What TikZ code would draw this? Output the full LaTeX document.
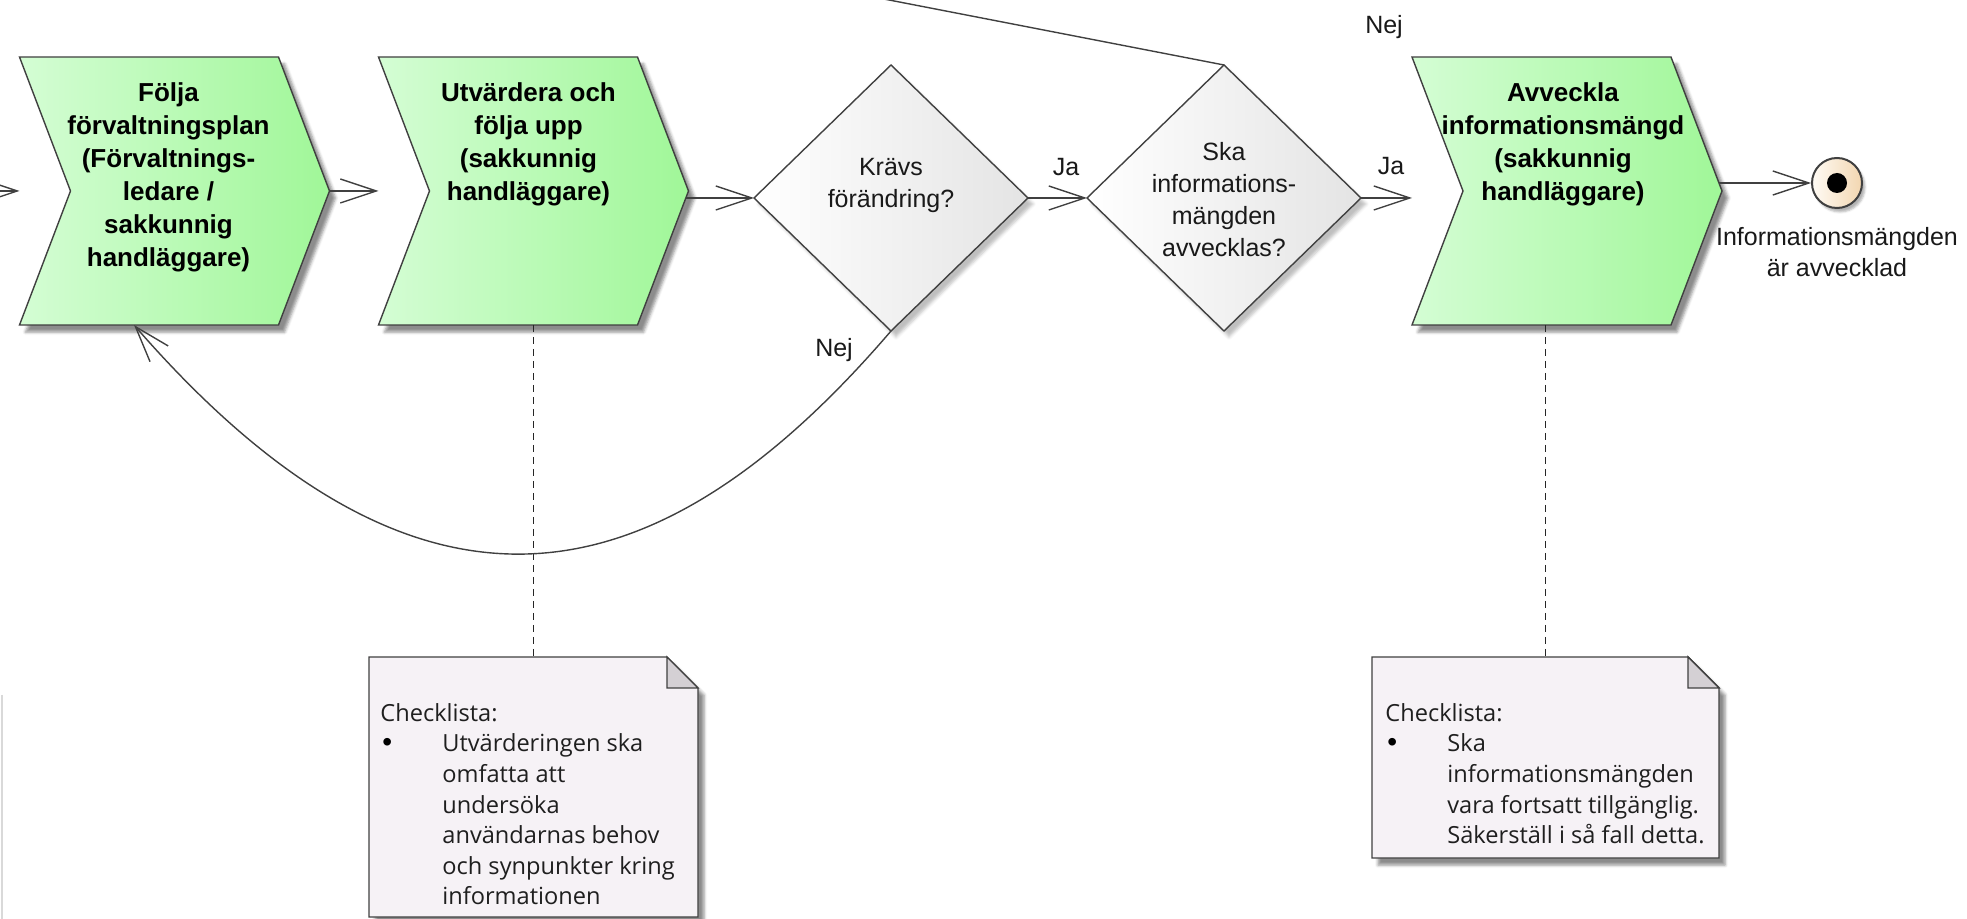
\documentclass[tikz,border=0pt]{standalone}
\usepackage{fontspec}
\setmainfont{Liberation Sans}
\newfontfamily\notefont{Open Sans}
\newfontfamily\bulfont{Liberation Sans}
\usetikzlibrary{arrows.meta,shadows.blur,calc,shapes.geometric}
\definecolor{edge}{HTML}{404040}
\definecolor{gL}{HTML}{D4FDD4}
\definecolor{gR}{HTML}{A0F798}
\definecolor{dR}{HTML}{E4E4E4}
\definecolor{noteF}{HTML}{F6F2F6}
\definecolor{foldF}{HTML}{D4D0D4}
\definecolor{endL}{HTML}{FFFBF5}
\definecolor{endR}{HTML}{F2D6B0}
\newcommand\nbul{\makebox[31pt][l]{\hspace{1pt}{\bulfont\color{black}\fontsize{14}{15.3}\selectfont\textbullet}}}
\begin{document}
\begin{tikzpicture}[x=0.5pt,y=-0.5pt,
  shad/.style={blur shadow={shadow xshift=3pt,shadow yshift=-3.5pt,shadow blur radius=1.5pt,shadow opacity=45}},
  box/.style={rectangle,inner sep=0pt,outer sep=0pt,minimum width=155pt,minimum height=134pt},
  chev/.style={draw=edge,line width=0.7pt,left color=gL,right color=gR,shad},
  dbox/.style={diamond,inner sep=0pt,outer sep=0pt,minimum width=137pt,minimum height=133pt,draw=edge,line width=0.7pt,left color=white,right color=dR,blur shadow={shadow xshift=2.5pt,shadow yshift=-3pt,shadow blur radius=1.5pt,shadow opacity=25}},
  nbox/.style={rectangle,inner sep=0pt,outer sep=0pt},
  notep/.style={draw=edge,line width=0.7pt,fill=noteF,shad},
  foldp/.style={draw=edge,line width=0.7pt,fill=foldF},
  ctext/.style={font=\bfseries\fontsize{13}{16.5}\selectfont,align=center,anchor=north,inner sep=0pt},
  dtext/.style={font=\fontsize{12.5}{16}\selectfont,align=center,inner sep=0pt,text=black!90},
  lbl/.style={font=\fontsize{12.5}{15.5}\selectfont,inner sep=0pt,text=black!90},
  ntext/.style={font=\notefont\fontsize{11.8}{15.3}\selectfont,align=left,inner sep=0pt,anchor=north west,text=black!88},
  conn/.style={draw=edge,line width=0.7pt,-{Straight Barb[length=18pt,width=12pt]}},
  plain/.style={draw=edge,line width=0.7pt},
  assoc/.style={draw=black!85,line width=0.6pt,dash pattern=on 3.5pt off 2.5pt}
]
\useasboundingbox (0,0) rectangle (1967,919);
\clip (0,0) rectangle (1967,919);

% faint fragment at left edge
\draw[gray!30,line width=1pt] (1.5,695) -- (1.5,919);

% shape anchors
\node[box] (c1) at (174.5,191) {};
\node[box] (c2) at (533.5,191) {};
\node[box] (c3) at (1567,191) {};
\node[nbox,minimum width=164.5pt,minimum height=130pt] (n1) at (533.5,787) {};
\node[nbox,minimum width=173.5pt,minimum height=100.5pt] (n2) at (1545.5,757.5) {};

% chevrons
\foreach \n in {c1,c2,c3}{
  \path[chev] (\n.north west) -- ([xshift=-25.5pt]\n.north east) -- (\n.east)
     -- ([xshift=-25.5pt]\n.south east) -- (\n.south west) -- ([xshift=25.5pt]\n.west) -- cycle;
}

% diamonds
\node[dbox] (d1) at (891,198) {};
\node[dbox] (d2) at (1224,198) {};

% end event
\node[circle,minimum size=25pt,inner sep=0pt,draw=edge,line width=1pt,left color=endL,right color=endR,blur shadow={shadow xshift=1.5pt,shadow yshift=-2pt,shadow blur radius=1pt,shadow opacity=30}] (e) at (1837,183) {};
\node[circle,minimum size=10pt,inner sep=0pt,fill=black] (edot) at (e) {};

% dashed associations
\draw[assoc] (c2.south) -- (n1.north);
\draw[assoc] (n2.north |- c3.south) -- (n2.north);

% notes
\foreach \n in {n1,n2}{
  \path[notep] (\n.north west) -- ([xshift=-15.5pt]\n.north east) -- ([yshift=-15.5pt]\n.north east)
     -- (\n.south east) -- (\n.south west) -- cycle;
  \path[foldp] ([xshift=-15.5pt]\n.north east) -- ([shift={(-15.5pt,-15.5pt)}]\n.north east)
     -- ([yshift=-15.5pt]\n.north east) -- cycle;
}

% connectors
\coordinate (in) at (-10,191);
\draw[conn] (in) -- (c1.west);
\draw[conn] (c1.east) -- (c2.west);
\draw[conn] ([xshift=-1.5pt]d1.west -| c2.east) -- (d1.west);
\draw[conn] (d1.east) -- (d2.west);
\draw[conn] (d2.east) -- (d2.east -| c3.west);
\draw[conn] ([xshift=-1.5pt]e.west -| c3.east) -- (e.west);
\draw[conn] (d1.south) .. controls +(-230,268) and +(290,333) .. ([xshift=-20.25pt]c1.south);
\coordinate (nejout) at (786,-20);
\draw[plain] (d2.north) -- (nejout);

% texts
\node[ctext] (c1t) at ([shift={(-6,25)}]c1.north) {Följa\\förvaltningsplan\\(Förvaltnings-\\ledare /\\sakkunnig\\handläggare)};
\node[ctext] (c2t) at ([shift={(-5,25)}]c2.north) {Utvärdera och\\följa upp\\(sakkunnig\\handläggare)};
\node[ctext] (c3t) at ([shift={(-4,25)}]c3.north) {Avveckla\\informationsmängd\\(sakkunnig\\handläggare)};
\node[dtext] (d1t) at ([shift={(0,-13)}]d1.center) {Krävs\\förändring?};
\node[dtext] (d2t) at ([shift={(0,2)}]d2.center) {Ska\\informations-\\mängden\\avvecklas?};
\node[lbl,align=center,anchor=north] (elbl) at ([shift={(0,18)}]e.south) {Informationsmängden\\är avvecklad};

\node[lbl,anchor=base] (ja1) at (1066,176) {Ja};
\node[lbl,anchor=base] (ja2) at (1391,175) {Ja};
\node[lbl,anchor=base] (nej1) at (1384,34) {Nej};
\node[lbl,anchor=base] (nej2) at (834,357) {Nej};

\node[ntext] (n1t) at ([shift={(11,46)}]n1.north west) {Checklista:\\
\nbul Utvärderingen ska\\
\hspace*{31pt}omfatta att\\
\hspace*{31pt}undersöka\\
\hspace*{31pt}användarnas behov\\
\hspace*{31pt}och synpunkter kring\\
\hspace*{31pt}informationen};
\node[ntext] (n2t) at ([shift={(13,46)}]n2.north west) {Checklista:\\
\nbul Ska\\
\hspace*{31pt}informationsmängden\\
\hspace*{31pt}vara fortsatt tillgänglig.\\
\hspace*{31pt}Säkerställ i så fall detta.};
\end{tikzpicture}
\end{document}
